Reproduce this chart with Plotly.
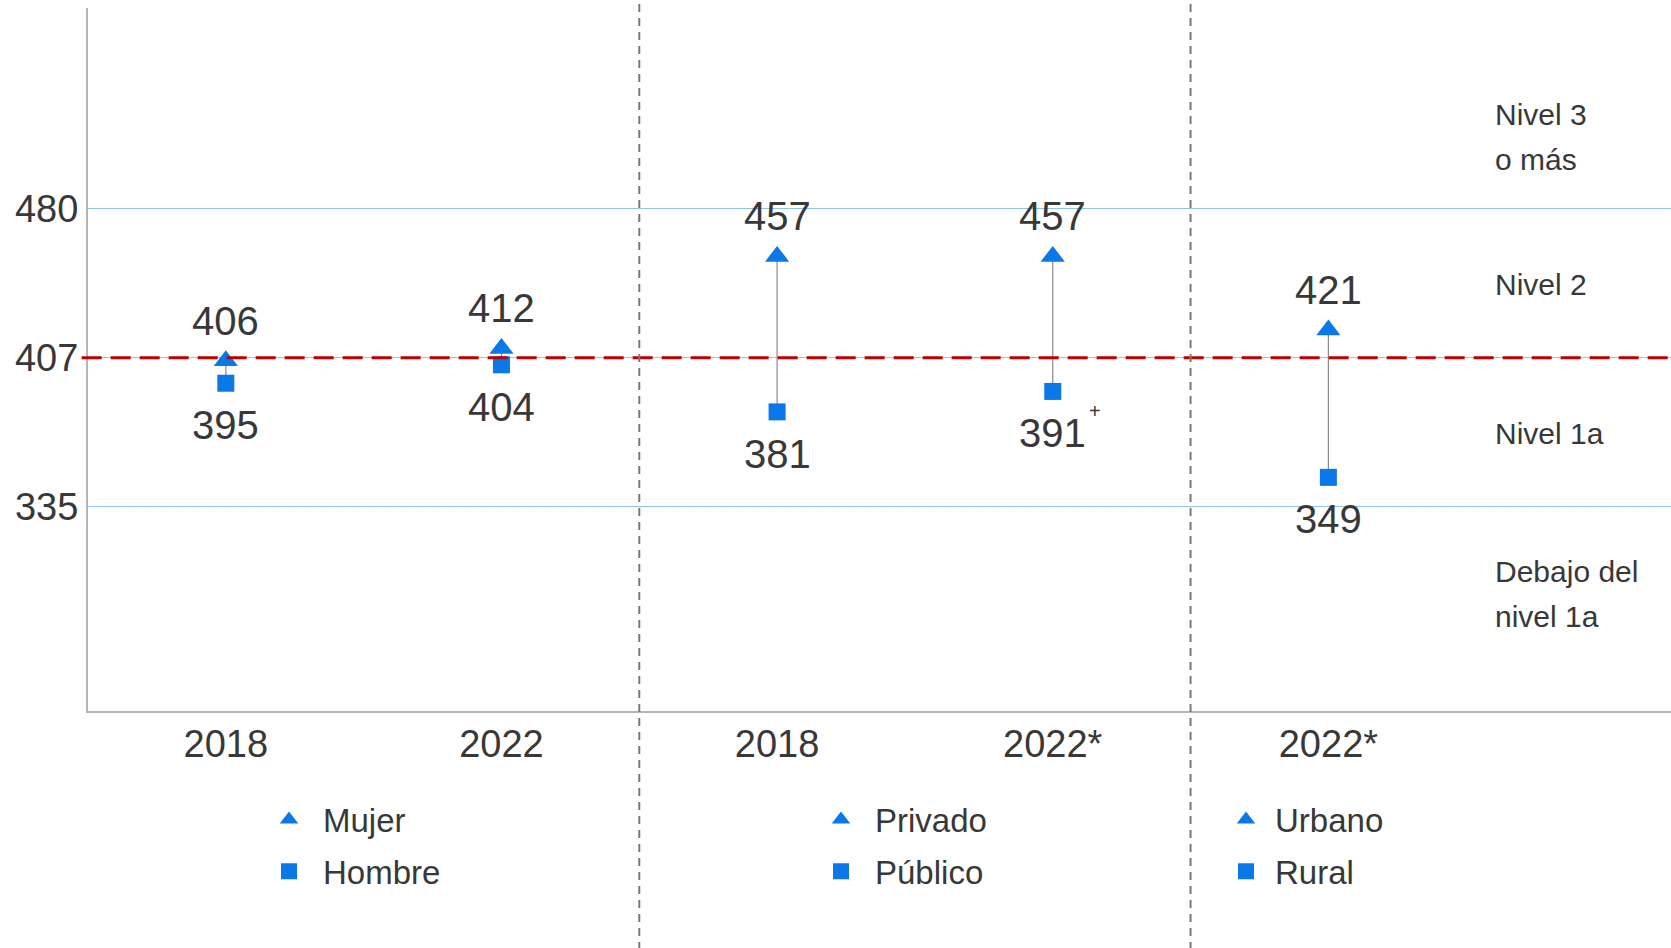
import plotly.graph_objects as go

# ---- data ----
categories = ["2018", "2022", "2018", "2022*", "2022*"]
cat_pos = [0, 1, 2, 3, 4]

mujer = [406, 412]
hombre = [395, 404]
privado = [457, 457]
publico = [381, 391]
urbano = [421]
rural = [349]

publico_marks = ["", "+"]

level_thresholds = [334.75, 407.47, 480.18]
level_tick_text = ["335", "407", "480"]
reference_value = 407.47

level_lines = [("Nivel 3", 0.849), ("o más", 0.785), ("Nivel 2", 0.606),
               ("Nivel 1a", 0.395), ("Debajo del", 0.198), ("nivel 1a", 0.135)]

BLUE = "#0A78E6"
TXT = "#383838"
FONT = "Liberation Sans, Arial, sans-serif"

fig = go.Figure()

# connector lines
top_all = mujer + privado + urbano
bot_all = hombre + publico + rural
cx, cy = [], []
for xi, t, b in zip(cat_pos, top_all, bot_all):
    cx += [xi, xi, None]
    cy += [t, b, None]
fig.add_trace(go.Scatter(x=cx, y=cy, mode="lines", line=dict(color="#8a8a8a", width=1.2),
                         showlegend=False, hoverinfo="skip"))

annotations = []
groups = [
    ("Mujer", "Hombre", cat_pos[0:2], mujer, hombre, None, "legend"),
    ("Privado", "Público", cat_pos[2:4], privado, publico, publico_marks, "legend2"),
    ("Urbano", "Rural", cat_pos[4:5], urbano, rural, None, "legend3"),
]
for top_name, bot_name, xs, tv, bv, marks, lg in groups:
    fig.add_trace(go.Scatter(
        x=xs, y=tv, mode="markers", name=top_name, legend=lg, legendgroup=top_name,
        marker=dict(symbol="triangle-up", size=21, color=BLUE)))
    fig.add_trace(go.Scatter(
        x=xs, y=bv, mode="markers", name=bot_name, legend=lg, legendgroup=bot_name,
        marker=dict(symbol="square", size=17, color=BLUE)))
    marks = marks if marks else [""] * len(bv)
    for xi, v in zip(xs, tv):
        annotations.append(dict(x=xi, y=v, xref="x", yref="y", text=str(v), showarrow=False,
                                yanchor="middle", yshift=40,
                                font=dict(size=40, color=TXT, family=FONT)))
    for xi, v, mk in zip(xs, bv, marks):
        annotations.append(dict(x=xi, y=v, xref="x", yref="y", text=str(v), showarrow=False,
                                yanchor="middle", yshift=-42,
                                font=dict(size=40, color=TXT, family=FONT)))
        if mk:
            annotations.append(dict(x=xi, y=v, xref="x", yref="y", text=mk, showarrow=False,
                                    yanchor="middle", xanchor="left", xshift=34, yshift=-20,
                                    font=dict(size=20, color=TXT, family=FONT)))

shapes = []
# reference dashed line
shapes.append(dict(type="line", xref="paper", yref="y", x0=-0.004, x1=1,
                   y0=reference_value, y1=reference_value,
                   line=dict(color="#C00000", width=3, dash="20px,9px")))
# dividers
for xv in [1.5, 3.5]:
    shapes.append(dict(type="line", xref="x", yref="paper", x0=xv, x1=xv, y0=-0.34, y1=1.02,
                       line=dict(color="#7a7a7a", width=2, dash="8px,6px")))

for txt, yp in level_lines:
    annotations.append(dict(text=txt, xref="paper", yref="paper", x=0.8875, y=yp,
                            xanchor="left", yanchor="middle", showarrow=False,
                            font=dict(size=30, color=TXT, family=FONT)))

def legend_cfg(x, itemwidth):
    return dict(font=dict(size=33, color=TXT, family=FONT), bgcolor="rgba(0,0,0,0)",
                borderwidth=0, itemwidth=itemwidth, tracegroupgap=6, traceorder="grouped",
                xanchor="left", yanchor="top", orientation="v", x=x, y=-0.1145)

fig.update_layout(
    width=1671, height=948,
    margin=dict(l=88, r=0, t=8, b=237),
    plot_bgcolor="white", paper_bgcolor="white",
    font=dict(family=FONT, color=TXT),
    shapes=shapes, annotations=annotations,
    legend=legend_cfg(0.1055, 58),
    legend2=legend_cfg(0.4542, 58),
    legend3=legend_cfg(0.7132, 48),
    xaxis=dict(range=[-0.5, 5.243], tickvals=cat_pos, ticktext=categories,
               showgrid=False, zeroline=False, showline=True, linecolor="#B5B5B5", linewidth=2,
               tickfont=dict(size=38, color=TXT, family=FONT), ticklabelstandoff=-2),
    yaxis=dict(range=[234.8, 578.4], tickvals=level_thresholds, ticktext=level_tick_text,
               showgrid=True, gridcolor="#8CC4F8",
               gridwidth=1, zeroline=False, showline=True, linecolor="#B5B5B5", linewidth=2,
               tickfont=dict(size=38, color=TXT, family=FONT), ticklabelstandoff=0),
)

fig.write_html("out.html", config={"displayModeBar": False},
               post_script="document.body.style.margin='0';")
